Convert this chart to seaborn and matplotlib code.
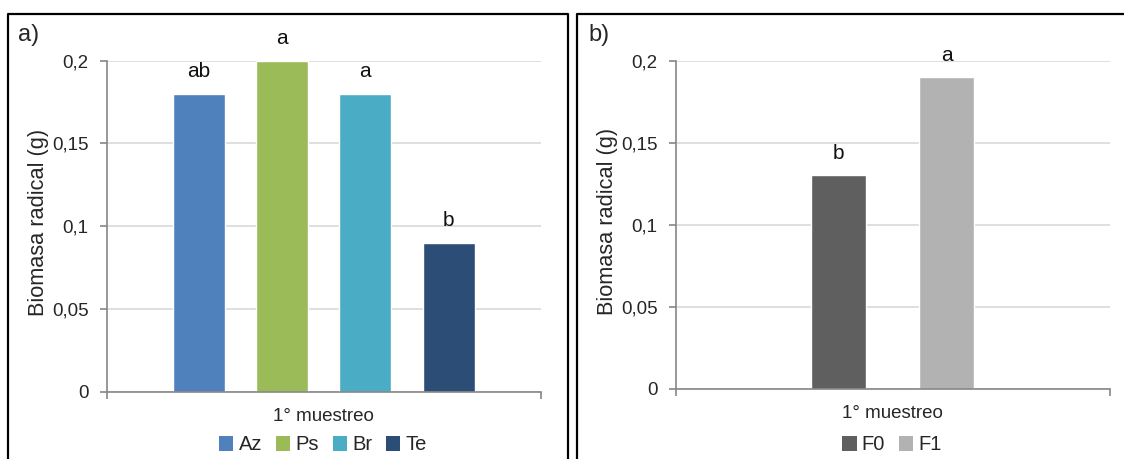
import matplotlib
matplotlib.use("Agg")
import matplotlib.pyplot as plt
import matplotlib.patches as mpatches
import pandas as pd
import seaborn as sns

# ---------------------------------------------------------------------------
# Data
# ---------------------------------------------------------------------------
MUESTREO = "1° muestreo"

trat_a = ["Az", "Ps", "Br", "Te"]
biomasa_a = [0.18, 0.20, 0.18, 0.09]
letras_a = ["ab", "a", "a", "b"]
colores_a = ["#4F81BD", "#9BBB59", "#4BACC6", "#2C4D75"]

trat_b = ["F0", "F1"]
biomasa_b = [0.13, 0.19]
letras_b = ["b", "a"]
colores_b = ["#5F5F5F", "#B2B2B2"]

y_ticks = [0, 0.05, 0.1, 0.15, 0.2]
y_ticklabels = ["0", "0,05", "0,1", "0,15", "0,2"]

df_a = pd.DataFrame({"muestreo": MUESTREO, "trat": trat_a, "biomasa": biomasa_a})
df_b = pd.DataFrame({"muestreo": MUESTREO, "trat": trat_b, "biomasa": biomasa_b})

sns.set_style("white")
plt.rcParams["font.family"] = ["Liberation Sans", "DejaVu Sans"]

AXIS_COL = "#868686"
GRID_COL = "#D9D9D9"

fig = plt.figure(figsize=(11.24, 4.59), dpi=100)
W, H = 1124, 459


def px_axes(x0, x1, y_top, y_bot):
    return fig.add_axes([x0 / W, 1 - y_bot / H, (x1 - x0) / W, (y_bot - y_top) / H])


def style_axes(ax, letters):
    ax.set_xlim(-0.5, 0.5)
    ax.set_ylim(0, 0.2)
    ax.set_yticks(y_ticks)
    ax.set_yticklabels(y_ticklabels)
    ax.set_ylabel("Biomasa radical (g)", fontsize=15.7)
    ax.yaxis.set_label_coords(-0.134, 0.51)
    ax.set_xlabel("")
    ax.set_xticks([0])
    ax.set_xticklabels([MUESTREO])
    ax.set_xticks([-0.5, 0.5], minor=True)
    ax.tick_params(axis="x", which="major", length=0, pad=12, labelsize=13.5)
    ax.tick_params(axis="x", which="minor", length=5, width=1.2,
                   color=AXIS_COL, direction="out", bottom=True)
    ax.tick_params(axis="y", length=5, width=1.2, color=AXIS_COL,
                   direction="out", left=True, pad=8, labelsize=13.5)
    ax.yaxis.grid(True, color=GRID_COL, lw=1.2)
    ax.set_axisbelow(True)
    for s in ["top", "right"]:
        ax.spines[s].set_visible(False)
    for s in ["left", "bottom"]:
        ax.spines[s].set_color(AXIS_COL)
        ax.spines[s].set_linewidth(1.2)
    for cont, lab in zip(ax.containers, letters):
        ax.bar_label(cont, labels=[lab], padding=9, fontsize=15,
                     color="#111111", clip_on=False)


# Panel a
ax_a = px_axes(106.7, 541, 60.6, 391.7)
sns.barplot(data=df_a, x="muestreo", y="biomasa", hue="trat",
            hue_order=trat_a, palette=colores_a, width=0.766, gap=0.375,
            saturation=1, legend=False, ax=ax_a)
style_axes(ax_a, letras_a)

# Panel b
ax_b = px_axes(675.7, 1110, 60.7, 388.7)
sns.barplot(data=df_b, x="muestreo", y="biomasa", hue="trat",
            hue_order=trat_b, palette=colores_b, width=0.497, gap=0.49,
            saturation=1, legend=False, ax=ax_b)
style_axes(ax_b, letras_b)

# Legends
def add_legend(labels, colors, xc):
    handles = [mpatches.Patch(facecolor=c, edgecolor="none") for c in colors]
    fig.legend(handles, labels, loc="center", ncol=len(labels),
               bbox_to_anchor=(xc / W, 1 - 445 / H), frameon=False,
               fontsize=14.5, handlelength=0.7, handleheight=0.7,
               handletextpad=0.25, columnspacing=0.7, borderpad=0)

add_legend(trat_a, colores_a, 323)
add_legend(trat_b, colores_b, 892)

# Panel labels and frames
fig.text(18 / W, 1 - 35 / H, "a)", fontsize=17, va="center", ha="left")
fig.text(588 / W, 1 - 35 / H, "b)", fontsize=17, va="center", ha="left")

for x0, x1 in [(8, 567.5), (577, 1130)]:
    fig.add_artist(plt.Line2D([x0 / W, x0 / W, x1 / W, x1 / W],
                              [-0.1, 1 - 13.5 / H, 1 - 13.5 / H, -0.1],
                              color="black", lw=1.6, transform=fig.transFigure))

fig.savefig("out.png", dpi=100, facecolor="white")
